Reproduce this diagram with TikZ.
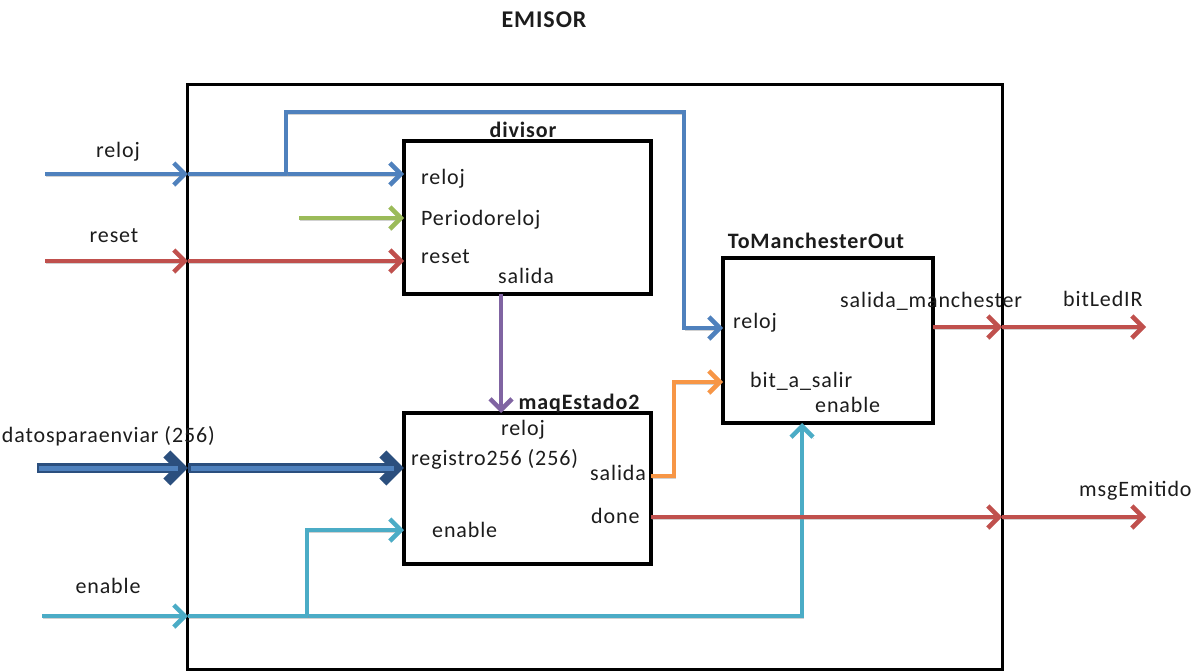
\documentclass[tikz,border=0pt]{standalone}
\usepackage{fontspec}
\setmainfont{Carlito}[LetterSpace=4.0]
\usetikzlibrary{arrows.meta}

\definecolor{cBlue}{HTML}{4F81BD}
\definecolor{cDark}{HTML}{2B4F7E}
\definecolor{cRed}{HTML}{C0504D}
\definecolor{cGreen}{HTML}{9BBB59}
\definecolor{cPurple}{HTML}{8064A2}
\definecolor{cCyan}{HTML}{4BACC6}
\definecolor{cOrange}{HTML}{F79646}
\definecolor{cText}{HTML}{1C1C1C}

\tikzset{
  blockbox/.style={draw=black, line width=3.5bp, inner sep=0pt, outer sep=0pt},
  lbl/.style={font=\fontsize{22bp}{26bp}\selectfont, text=cText, inner sep=0pt},
  ttl/.style={font=\fontsize{22bp}{26bp}\selectfont\bfseries, text=cText, inner sep=0pt},
  shade/.style={preaction={draw=black!45, opacity=0.4,
      transform canvas={xshift=0.8bp, yshift=-1.8bp}}},
  wire/.style={line width=4.5bp, line join=miter, shade},
  wiretip/.style={wire, -{Straight Barb[length=11bp, width=22bp]}},
}

\begin{document}
\begin{tikzpicture}[x=1bp, y=-1bp]
\useasboundingbox (0,0) rectangle (1196,671);

% title
\node[font=\fontsize{24bp}{29bp}\selectfont\bfseries, text=cText, inner sep=0pt, anchor=base]
  (title) at (544,28) {EMISOR};

% enclosing block and the three sub-blocks
\node[blockbox, line width=3bp, minimum width=814bp, minimum height=584bp] (emisor) at (595,377) {};
\node[blockbox, minimum width=247bp, minimum height=153bp] (div) at (527.5,217.5) {};
\node[blockbox, minimum width=247bp, minimum height=151bp] (maq) at (527.5,488.5) {};
\node[blockbox, minimum width=210bp, minimum height=165bp] (tom) at (828,340.5) {};

\node[ttl, anchor=base] (divT) at (523,138) {divisor};
\node[ttl, anchor=base] (maqT) at (579,409) {maqEstado2};
\node[ttl, anchor=base] (tomT) at (816,248) {ToManchesterOut};

% ports of divisor
\node[lbl, anchor=base west] (divReloj) at (421,185) {reloj};
\node[lbl, anchor=base west] (divPer)   at (421,226) {Periodoreloj};
\node[lbl, anchor=base west] (divReset) at (421,263) {reset};
\node[lbl, anchor=base]      (divSal)   at (526,283) {salida};

% ports of maqEstado2
\node[lbl, anchor=base]      (maqReloj) at (523,435) {reloj};
\node[lbl, anchor=base west] (maqReg)   at (411,465) {registro256 (256)};
\node[lbl, anchor=base west] (maqSal)   at (590,480) {salida};
\node[lbl, anchor=base west] (maqDone)  at (591,523) {done};
\node[lbl, anchor=base west] (maqEn)    at (432,537) {enable};

% ports of ToManchesterOut
\node[lbl, anchor=base west] (tomSal)   at (840,307) {salida\_manchester};
\node[lbl, anchor=base west] (tomReloj) at (733,328) {reloj};
\node[lbl, anchor=base west] (tomBit)   at (750,387) {bit\_a\_salir};
\node[lbl, anchor=base west] (tomEn)    at (815,412) {enable};

% external signal names
\node[lbl, anchor=base] (lReloj) at (118,158) {reloj};
\node[lbl, anchor=base] (lReset) at (114,242) {reset};
\node[lbl, anchor=base east] (lDatos) at (215,442) {datosparaenviar (256)};
\node[lbl, anchor=base] (lEn) at (108,593) {enable};
\node[lbl, anchor=base west] (lBit) at (1063,306) {bitLedIR};
\node[lbl, anchor=base west] (lMsg) at (1079,496) {msgEmitido};

% free ends and bends
\coordinate (inReloj) at (45,174);
\coordinate (inReset) at (45,261);
\coordinate (inDatos) at (37,468);
\coordinate (inEn)    at (42,616);
\coordinate (inPer)   at (299,218);
\coordinate (outBit)  at (1146,327);
\coordinate (outMsg)  at (1146,517);
\coordinate (brReloj) at (286,174);
\coordinate (topReloj) at (286,112);
\coordinate (colReloj) at (684,112);
\coordinate (rowReloj) at (684,328);
\coordinate (brEn)    at (307,616);
\coordinate (rowEn)   at (307,530);
\coordinate (colEn)   at (802,616);
\coordinate (orSrc)   at (651,476);
\coordinate (orBend)  at (674,476);
\coordinate (orTop)   at (674,382);
\coordinate (purX)    at (501,0);

% reloj
\draw[wiretip, cBlue] (inReloj) -- (inReloj -| emisor.west);
\draw[wiretip, cBlue] (inReloj -| emisor.west) -- (inReloj -| div.west);
\draw[wiretip, cBlue] (brReloj) -- (topReloj) -- (colReloj) -- (rowReloj) -- (rowReloj -| tom.west);

% Periodoreloj
\draw[wiretip, cGreen] (inPer) -- (inPer -| div.west);

% reset
\draw[wiretip, cRed] (inReset) -- (inReset -| emisor.west);
\draw[wiretip, cRed] (inReset -| emisor.west) -- (inReset -| div.west);

% divisor salida -> maqEstado2 reloj
\draw[wiretip, cPurple] (purX |- div.south) -- (purX |- maq.north);

% datosparaenviar (wide bus)
\draw[line width=10bp, cDark, shade, -{Straight Barb[length=14bp, width=28bp]}]
  (inDatos) -- (inDatos -| emisor.west);
\draw[line width=10bp, cDark, shade, -{Straight Barb[length=14bp, width=28bp]}]
  (inDatos -| emisor.west) -- (inDatos -| maq.west);
\draw[line width=5bp, cBlue, shorten >=10bp, shorten <=1.5bp] (inDatos) -- (inDatos -| emisor.west);
\draw[line width=5bp, cBlue, shorten >=10bp, shorten <=3bp] (inDatos -| emisor.west) -- (inDatos -| maq.west);

% enable
\draw[wiretip, cCyan] (inEn) -- (inEn -| emisor.west);
\draw[wiretip, cCyan] (inEn -| emisor.west) -- (colEn) -- (colEn |- tom.south);
\draw[wiretip, cCyan] (brEn) -- (rowEn) -- (rowEn -| maq.west);

% maqEstado2 salida -> bit_a_salir
\draw[wiretip, cOrange] (orSrc) -- (orBend) -- (orTop) -- (orTop -| tom.west);

% outputs
\draw[wiretip, cRed] (tom.east |- outBit) -- (emisor.east |- outBit);
\draw[wiretip, cRed] (emisor.east |- outBit) -- (outBit);
\draw[wiretip, cRed] (maq.east |- outMsg) -- (emisor.east |- outMsg);
\draw[wiretip, cRed] (emisor.east |- outMsg) -- (outMsg);
\end{tikzpicture}
\end{document}
